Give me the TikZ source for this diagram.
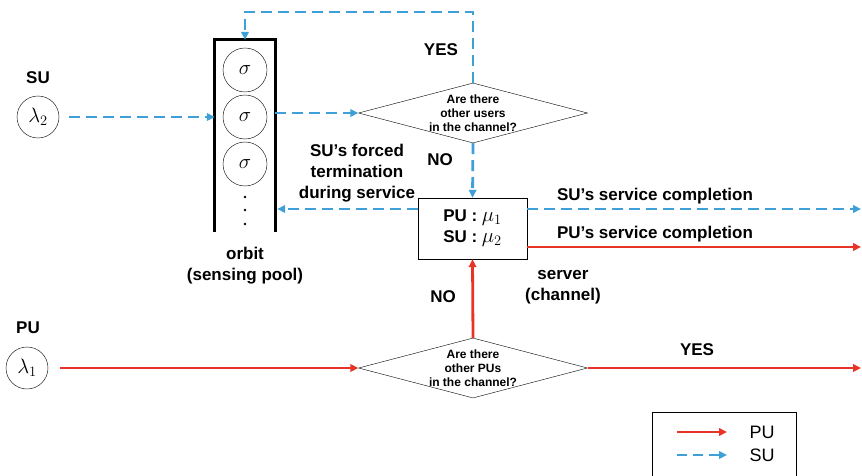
\documentclass[tikz,border=0pt]{standalone}
\usepackage{fontspec}
\setmainfont{Liberation Sans}
\usetikzlibrary{shapes.geometric,arrows.meta}

\definecolor{pured}{RGB}{232,52,38}
\definecolor{sublue}{RGB}{62,160,214}

\newcommand{\rate}[1]{{\fontsize{20}{20}\selectfont$#1$}}

\tikzset{
  lbl/.style={font=\bfseries\fontsize{17}{21}\selectfont, align=center, inner sep=0pt},
  qtext/.style={font=\bfseries\fontsize{12}{14}\selectfont, align=center, inner sep=0pt},
  source/.style={draw, circle, minimum size=42pt, inner sep=0pt, font=\fontsize{20}{20}\selectfont},
  slot/.style={draw, circle, minimum size=44pt, inner sep=0pt, font=\fontsize{20}{20}\selectfont},
  query/.style={draw, diamond, minimum width=229pt, minimum height=60pt, inner sep=0pt},
  puflow/.style={pured, line width=2.8pt, -{Triangle[length=8pt,width=7.5pt]}},
  suflow/.style={sublue, line width=2.8pt, dash pattern=on 11pt off 6pt, -{Triangle[length=8pt,width=7.5pt]}},
}

\begin{document}
\begin{tikzpicture}[x=1pt, y=-1pt]
  \useasboundingbox (0,0) rectangle (862,476);

  % sources
  \node[lbl] (sulbl) at (38,78) {SU};
  \node[source] (su) at (38,117) {$\lambda_2$};
  \node[lbl] (pulbl) at (28,328) {PU};
  \node[source] (pu) at (27,368) {$\lambda_1$};

  % orbit
  \node[minimum width=60pt, minimum height=192pt, inner sep=0pt] (orbit) at (245,136) {};
  \draw[line width=3pt] (orbit.south west) |- (orbit.north) -| (orbit.south east);
  \node[slot] (s1) at (245,70) {$\sigma$};
  \node[slot] (s2) at (245,117) {$\sigma$};
  \node[slot] (s3) at (245,164) {$\sigma$};
  \fill (245,197) circle [radius=1.4pt];
  \fill (245,210) circle [radius=1.4pt];
  \fill (245,224) circle [radius=1.4pt];
  \node[lbl] (orbitlbl) at (245,266) {orbit\\(sensing pool)};

  % decisions and server
  \node[query, label={[qtext]center:Are there\\other users\\in the channel?}] (q1) at (473,113) {};
  \node[query, label={[qtext]center:Are there\\other PUs\\in the channel?}] (q2) at (473,368) {};
  \node[draw, minimum width=109pt, minimum height=61pt, inner sep=0pt, lbl, fill=white] (server) at (472.5,228.5)
    {PU : \rate{\mu_1}\\SU : \rate{\mu_2}};
  \node[lbl] (serverlbl) at (563,287) {server\\(channel)};

  \coordinate (loop) at (473,12);
  \coordinate (suend) at (861,209);
  \coordinate (puend) at (861,247);
  \coordinate (yesend) at (861,368);

  % SU flows
  \draw[suflow] ([xshift=10pt]su.east) -- (orbit.west |- su);
  \draw[suflow] (orbit.east |- q1) -- (q1.west);
  \draw[suflow] (q1.north) -- (loop) -| (orbit.north);
  \draw[suflow] (q1.south) -- (server.north);
  \draw[suflow] (server.west |- suend) -- ([xshift=2pt]orbit.east |- suend);
  \draw[suflow] (server.east |- suend) -- (suend);

  % PU flows
  \draw[puflow] ([xshift=12pt]pu.east) -- (q2.west);
  \draw[puflow] (q2.north) -- (server.south);
  \draw[puflow] (q2.east) -- (yesend);
  \draw[puflow] (server.east |- puend) -- (puend);

  % labels
  \node[lbl] (yes1) at (441,50) {YES};
  \node[lbl] (no1) at (440,160) {NO};
  \node[lbl] (no2) at (443,297) {NO};
  \node[lbl] (yes2) at (697,350) {YES};
  \node[lbl] (forced) at (357,173) {SU's forced\\termination\\during service};
  \node[lbl] (sucomp) at (655,196) {SU's service completion};
  \node[lbl] (pucomp) at (655,234) {PU's service completion};

  % legend
  \node[draw, minimum width=144pt, minimum height=72pt] (legend) at (724,448) {};
  \coordinate (lpu) at (677,432);
  \coordinate (lsu) at (677,455);
  \draw[puflow] (lpu) -- ++(50,0);
  \draw[suflow, dash pattern=on 10pt off 6pt] (lsu) -- ++(50,0);
  \node[font=\fontsize{18}{20}\selectfont] (legpu) at (762,432) {PU};
  \node[font=\fontsize{18}{20}\selectfont] (legsu) at (762,455) {SU};
\end{tikzpicture}
\end{document}
